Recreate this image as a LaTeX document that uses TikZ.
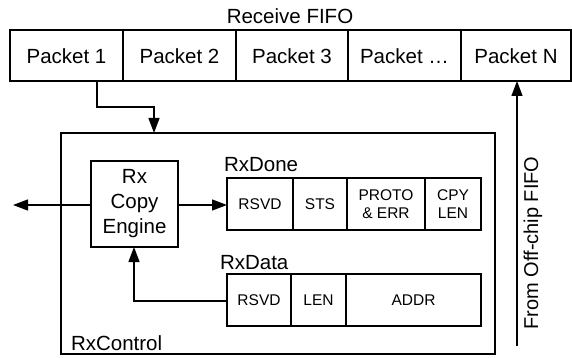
\documentclass[tikz,border=0pt]{standalone}
\usepackage{fontspec}
\setmainfont{Liberation Sans}
\usetikzlibrary{arrows.meta}
\begin{document}
\begin{tikzpicture}[x=1pt,y=-1pt,
  line width=1.3pt,
  every node/.style={inner sep=0pt,outer sep=0pt},
  cell/.style={draw,line width=1.1pt},
  big/.style={font=\fontsize{20.5}{23}\selectfont},
  lbl/.style={font=\fontsize{20.5}{23}\selectfont},
  small/.style={font=\fontsize{15.5}{18}\selectfont,align=center},
  arr/.style={-{Triangle[length=15pt,width=11pt]},line width=1.3pt}]
\useasboundingbox (0,0) rectangle (572,358);

% Receive FIFO
\node[big] (fifolbl) at (290,16) {Receive FIFO};
\foreach \name/\a/\b/\t in {p1/10/123/{Packet 1},p2/123/236/{Packet 2},p3/236/348/{Packet 3},pd/348/461/{Packet \ldots},pn/461/571/{Packet N}}{
  \draw[cell] (\a,30) rectangle (\b,81);
  \node[big] (\name) at ({(\a+\b)/2},56) {\t};
}
\coordinate (p1b) at (97,81);
\coordinate (pnb) at (517,81);

% RxControl block
\draw[cell] (61,133) rectangle (495,354);
\node[lbl,anchor=west] (ctl) at (71,343) {RxControl};
\coordinate (ctltop) at (154,133);

% Rx copy engine
\draw[cell] (91,161) rectangle (178,247);
\node[lbl,align=center,font=\fontsize{20.5}{25}\selectfont] (eng) at (134.5,204) {Rx\\Copy\\Engine};
\coordinate (engL) at (91,205);
\coordinate (engR) at (178,205);
\coordinate (engB) at (134,247);
\coordinate (outL) at (13,205);

% RxDone descriptor
\node[lbl,anchor=west] (donelbl) at (224,165) {RxDone};
\foreach \name/\a/\b/\t in {d1/227/293/{RSVD},d2/293/347/{STS},d3/347/425/{PROTO\\\& ERR},d4/425/481/{CPY\\LEN}}{
  \draw[cell] (\a,178) rectangle (\b,230);
  \node[small] (\name) at ({(\a+\b)/2},204) {\t};
}
\coordinate (doneL) at (227,205);

% RxData descriptor
\node[lbl,anchor=west] (datalbl) at (220,263) {RxData};
\foreach \name/\a/\b/\t in {r1/227/291/{RSVD},r2/291/346/{LEN},r3/346/481/{ADDR}}{
  \draw[cell] (\a,274) rectangle (\b,326);
  \node[small] (\name) at ({(\a+\b)/2},300) {\t};
}
\coordinate (dataL) at (227,301);

% Off-chip input
\coordinate (offB) at (517,346);
\node[font=\fontsize{20}{22}\selectfont,rotate=90] (offlbl) at (533,243) {From Off-chip FIFO};

% Connectors
\draw[arr] (p1b) |- (154,107) -- (ctltop);
\draw[arr] (offB) -- (pnb);
\draw[arr] (engL) -- (outL);
\draw[arr] (engR) -- (doneL);
\draw[arr] (dataL) -| (engB);
\end{tikzpicture}
\end{document}
